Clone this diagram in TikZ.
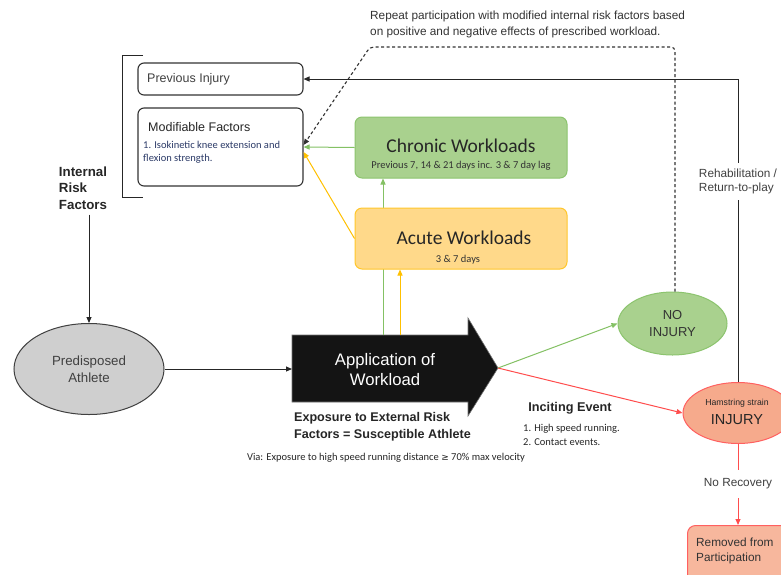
\documentclass[tikz,border=0pt]{standalone}
\usepackage{fontspec}
\setmainfont{Liberation Sans}
\newfontfamily\carl{Carlito}
\newfontfamily\djv{DejaVu Sans}
\usetikzlibrary{arrows.meta,shapes.geometric,calc}

\definecolor{grfill}{HTML}{A9D18E}
\definecolor{grline}{HTML}{8CC46E}
\definecolor{grarrow}{HTML}{84C164}
\definecolor{yefill}{HTML}{FFD98A}
\definecolor{yeline}{HTML}{FFC72C}
\definecolor{yearrow}{HTML}{FFC000}
\definecolor{sfill}{HTML}{F6AA8C}
\definecolor{sline}{HTML}{FF6060}
\definecolor{rarrow}{HTML}{FF4D4D}
\definecolor{txtgray}{HTML}{404040}
\definecolor{listblue}{HTML}{2B3A67}

\tikzset{
  x=1pt, y=-1pt,
  tip/.style={-{Triangle[length=6pt,width=5pt]}},
  blk/.style={line width=1pt, black!85},
  arr/.style={blk, tip},
  garr/.style={line width=1pt, grarrow, tip},
  yarr/.style={line width=1pt, yearrow, tip},
  rline/.style={line width=1pt, rarrow},
  rarr/.style={rline, tip},
  dash line/.style={line width=1.1pt, black!80, dash pattern=on 3pt off 2.5pt, tip},
  wbox/.style={draw=black!80, line width=1.1pt, rounded corners=6pt, fill=white},
  greenbox/.style={draw=grline, line width=1pt, rounded corners=7pt, fill=grfill,
    minimum width=212, minimum height=61},
  yellowbox/.style={draw=yeline, line width=1pt, rounded corners=7pt, fill=yefill,
    minimum width=212, minimum height=61},
  txt/.style={inner sep=1pt},
}

\begin{document}
\begin{tikzpicture}
\fill[white] (0,0) rectangle (781,574);
\useasboundingbox (0,0) rectangle (781,574);

% internal risk factor bracket
\draw[blk] (143,55) -- (122,55) -- (122,197) -- (143,197);

% internal risk factor boxes
\node[wbox, minimum width=165, minimum height=32] (prev) at (220.5,79) {};
\node[txt, anchor=west, text=txtgray, font=\fontsize{12.5}{15}\selectfont] (prevt) at (146,79) {Previous Injury};
\node[wbox, minimum width=165, minimum height=78] (mod) at (220.5,147) {};
\node[txt, anchor=west, text=black!85, font=\fontsize{12.5}{15}\selectfont] (modt) at (147,127) {Modifiable Factors};
\node[inner sep=0pt, anchor=north west, align=left, text=listblue,
  font=\carl\fontsize{10.5}{13}\selectfont] (modl) at (143,141)
  {1. Isokinetic knee extension and\\flexion strength.};

\node[txt, align=left, font=\bfseries\fontsize{13.3}{16.5}\selectfont, text=black!85] (irf) at (83,188)
  {Internal\\Risk\\Factors};

% predisposed athlete
\node[ellipse, draw=black!75, line width=1pt, fill=black!19, minimum width=150, minimum height=91,
  align=center, text=txtgray, font=\fontsize{13.3}{16.5}\selectfont] (pred) at (89,369)
  {Predisposed\\Athlete};
\draw[arr] ([yshift=-4pt]irf.south -| pred.north) -- (pred.north);

% application of workload arrow
\draw[fill=black!92, draw=black!55, line width=0.6pt]
  (292,335) -- (468,335) -- (468,318) -- (498,368) -- (468,416) -- (468,402) -- (292,402) -- cycle;
\coordinate (appL) at (292,369);
\coordinate (appG) at (383,335);
\coordinate (appY) at (400,335);
\coordinate (appTip) at (498,368);
\node[align=center, text=white, font=\fontsize{16.7}{20}\selectfont] (app) at (385,370)
  {Application of\\Workload};
\draw[arr] (pred.east) -- (appL);

\node[txt, align=left, font=\bfseries\fontsize{12.6}{17}\selectfont, text=black!85] (expo) at (382.5,426.5)
  {Exposure to External Risk\\Factors = Susceptible Athlete};
\node[txt, text=black!85, font=\carl\fontsize{10.5}{12}\selectfont] (via) at (386,458)
  {Via: Exposure to high speed running distance {\djv\fontsize{9}{12}\selectfont ≥} 70\% max velocity};

% workload boxes
\node[greenbox] (chron) at (461,147.5) {};
\node[txt, text=black!85, font=\carl\fontsize{19.5}{20}\selectfont] (chront) at (461,146) {Chronic Workloads};
\node[txt, text=black!80, font=\carl\fontsize{10.5}{12}\selectfont] (chrons) at (461,165.5) {Previous 7, 14 \& 21 days inc. 3 \& 7 day lag};
\draw[garr] (appG) -- (appG |- chron.south);
\node[yellowbox] (acute) at (461,238.5) {};
\node[txt, text=black!85, font=\carl\fontsize{19.5}{20}\selectfont] (acutet) at (464,238) {Acute Workloads};
\node[txt, text=black!80, font=\carl\fontsize{10.5}{12}\selectfont] (acutes) at (458,260) {3 \& 7 days};
\draw[yarr] (appY) -- (appY |- acute.south);
\draw[garr] (chron.west) -- (mod.east);
\draw[yarr] (acute.west) -- ([yshift=-5pt]mod.east);

% outcomes
\node[ellipse, draw=grline, line width=1pt, fill=grfill, minimum width=109, minimum height=63,
  align=center, text=black!80, font=\fontsize{13}{17}\selectfont] (noinj) at (672.5,323.5) {NO\\INJURY};
\node[ellipse, draw=sline, line width=1pt, fill=sfill, minimum width=110, minimum height=61] (inj) at (738,413) {};
\node[txt, text=black!85, font=\fontsize{8.7}{10}\selectfont] (injs) at (737,403) {Hamstring strain};
\node[txt, text=black!85, font=\fontsize{14.5}{15}\selectfont] (injt) at (737,420) {INJURY};
\draw[garr] (appTip) -- (noinj.west);
\draw[rarr] (appTip) -- (inj.west);

\node[txt, anchor=south, font=\bfseries\fontsize{12.7}{14}\selectfont, text=black!85] (inc) at (570,415) {Inciting Event};
\node[txt, anchor=west, align=left, text=black!85, font=\carl\fontsize{10.5}{14}\selectfont] (incl) at (522,435)
  {1. High speed running.\\2. Contact events.};

% repeat participation loop
\coordinate (dtop) at (370,47);
\draw[dash line, rounded corners=4pt] ([xshift=2.5pt]noinj.north) |- (dtop) -- ([yshift=2pt]mod.east);
\node[anchor=west, inner xsep=2pt, align=left, text=black!80, font=\fontsize{11.8}{16}\selectfont] (rep) at (368,24)
  {Repeat participation with modified internal risk factors based\\on positive and negative effects of prescribed workload.};

% rehabilitation path
\node[inner xsep=1pt, inner ysep=6pt, align=left, text=txtgray, font=\fontsize{11.8}{14}\selectfont] (rehab) at (738,181.5)
  {Rehabilitation /\\Return-to-play};
\draw[blk] (inj.north) -- (rehab.south);
\draw[arr] (rehab.north) |- (prev.east);

% no recovery path
\node[inner xsep=1pt, inner ysep=9pt, text=txtgray, font=\fontsize{11.8}{14}\selectfont] (norec) at (738,484) {No Recovery};
\node[draw=sline, line width=1pt, fill=sfill!85, rounded corners=8pt, anchor=north west,
  minimum width=120, minimum height=70] (rem) at (687,525) {};
\node[txt, anchor=west, align=left, text=black!80, font=\fontsize{11.8}{15}\selectfont] (remt) at (695,551)
  {Removed from\\Participation};
\draw[rline] (inj.south) -- (norec.north);
\draw[rarr] (norec.south) -- (norec.south |- rem.north);
\end{tikzpicture}
\end{document}
